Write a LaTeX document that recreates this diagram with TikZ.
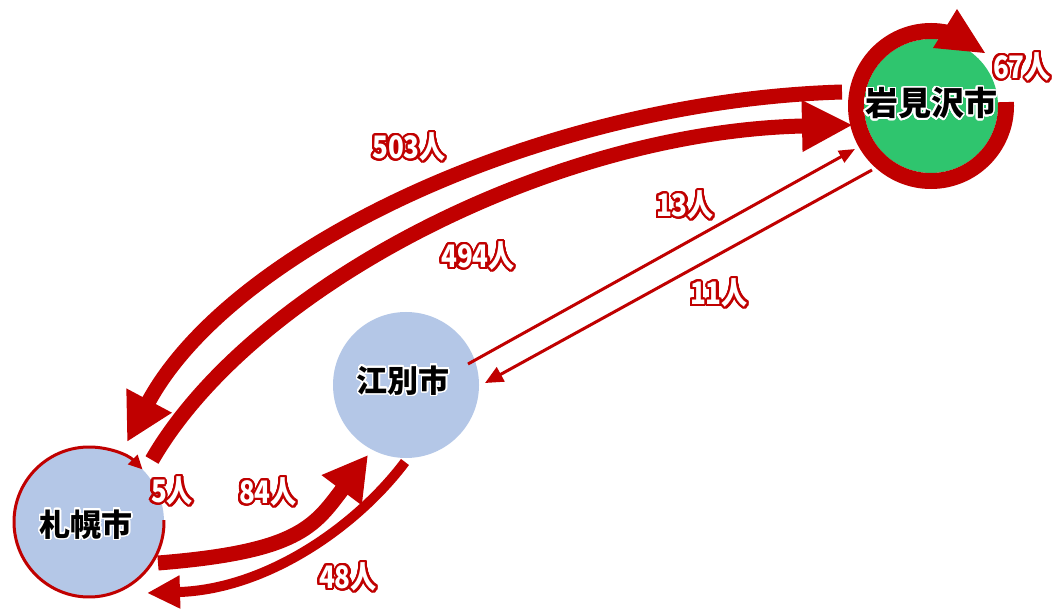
\documentclass[tikz,border=0pt]{standalone}
\usepackage{fontspec}
\usepackage[copies]{contour}
\usetikzlibrary{arrows.meta}
\newfontfamily\jpfont{Noto Sans CJK JP}
\newfontfamily\numfont{Noto Sans CJK JP}[FakeStretch=0.84]
\definecolor{flowred}{HTML}{C00000}
\definecolor{cityblue}{HTML}{B4C7E7}
\definecolor{citygreen}{HTML}{2FC56E}
\contournumber{32}
\tikzset{
  city/.style={circle, inner sep=0pt, text=black,
    font=\jpfont\bfseries\fontsize{31}{31}\selectfont},
  flow/.style={draw=flowred, line width=15pt},
  lab/.style={inner sep=0pt, text=white,
    font=\numfont\bfseries\fontsize{31}{31}\selectfont},
}
\newcommand{\glowlab}[1]{\contourlength{2.1pt}\contour{flowred}{#1}}
\newcommand{\glowcity}[1]{\contourlength{1.5pt}\contour{white}{#1}}
\begin{document}
\begin{tikzpicture}[x=1pt,y=-1pt]
\fill[white] (0,0) rectangle (1062,609);
\useasboundingbox (0,0) rectangle (1062,609);

% cities
\node[city, fill=cityblue, minimum size=150pt] (sap) at (89,522) {};
\node[city, fill=cityblue, minimum size=146pt] (ebe) at (406,385) {};
\node[city, fill=citygreen, minimum size=134pt] (iwa) at (931,106) {};

% self loops
\draw[flowred, line width=16pt] (iwa.center) ++(-3:75) arc[start angle=-3, end angle=290, radius=75];
\fill[flowred] ([shift={(2,-58)}]iwa.center) -- ([shift={(26,-97)}]iwa.center) -- ([shift={(54,-53)}]iwa.center) -- cycle;
\draw[flowred, line width=3pt, -{Triangle[length=14pt,width=13pt]}] (sap.center) ++(-1.5:75) arc[start angle=-1.5, end angle=315.5, radius=75];

% flows
\draw[flow, -{Triangle[length=47pt,width=48pt]}]
  ([shift={(-89,-14)}]iwa.center) .. controls +(-300,9) and +(103.4,-193.6) .. ([shift={(38,-80)}]sap.center);
\draw[flow, -{Triangle[length=51pt,width=48pt]}]
  ([shift={(63,-62)}]sap.center) .. controls +(100,-173.2) and +(-300,6) .. ([shift={(-78,19)}]iwa.center);
\draw[flow, -{Triangle[length=44pt,width=47pt]}]
  ([shift={(69,41)}]sap.center) .. controls +(140,-11.2) and +(-54,72) .. ([shift={(-38,70)}]ebe.center);
\draw[flow, line width=10pt, -{Triangle[length=33pt,width=31pt]}]
  ([shift={(-1,77)}]ebe.center) .. controls +(-48,64) and +(120,-3.6) .. ([shift={(58,71)}]sap.center);
\draw[flowred, line width=3pt, -{Triangle[length=16pt,width=13pt]}]
  ([shift={(62,-21)}]ebe.center) -- ([shift={(-76,43)}]iwa.center);
\draw[flowred, line width=3pt, -{Triangle[length=18pt,width=16pt]}]
  ([shift={(-59,64)}]iwa.center) -- ([shift={(79,-2)}]ebe.center);

% city names
\node[city] (sapname) at (86,525) {\glowcity{札幌市}};
\node[city] (ebename) at (403,381) {\glowcity{江別市}};
\node[city, font=\jpfont\bfseries\fontsize{33}{33}\selectfont] (iwaname) at (931,104) {\glowcity{岩見沢市}};

% labels
\node[lab] (l503) at (409,148) {\glowlab{503人}};
\node[lab] (l494) at (478,257) {\glowlab{494人}};
\node[lab] (l13) at (685,206) {\glowlab{13人}};
\node[lab] (l11) at (719,294) {\glowlab{11人}};
\node[lab] (l67) at (1022,68) {\glowlab{67人}};
\node[lab] (l5) at (172,492) {\glowlab{5人}};
\node[lab] (l84) at (268,493) {\glowlab{84人}};
\node[lab] (l48) at (348,578) {\glowlab{48人}};
\end{tikzpicture}
\end{document}
